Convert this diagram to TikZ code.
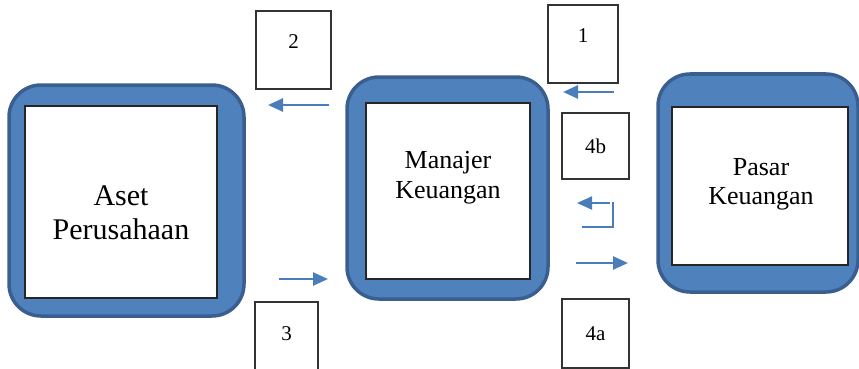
\documentclass[tikz,border=0pt]{standalone}
\usepackage{fontspec}
\setmainfont{Liberation Serif}
\usetikzlibrary{arrows.meta}
\definecolor{boxblue}{HTML}{4F81BD}
\definecolor{boxedge}{HTML}{3A5F8F}
\definecolor{arrowblue}{HTML}{4A7EBB}
\tikzset{
	bigbox/.style={draw=boxedge, fill=boxblue, line width=3.5pt, rounded corners=32pt},
	innerbox/.style={draw=black!85, fill=white, line width=1.2pt},
	numbox/.style={draw=black!80, fill=white, line width=1.2pt, font=\fontsize{21}{24}\selectfont},
	flowarrow/.style={draw=arrowblue, line width=2.6pt, -{Triangle[length=15pt,width=13pt]}}
}
\begin{document}
\begin{tikzpicture}[x=1pt,y=-1pt]
	\useasboundingbox (0,0) rectangle (859,369);
	% aset perusahaan
	\node[bigbox, minimum width=235pt, minimum height=231pt] (aset) at (126.5,200.5) {};
	\node[innerbox, minimum width=192pt, minimum height=192pt] (asetin) at (121,202) {};
	\node[align=center, font=\fontsize{30}{34}\selectfont] (asettxt) at (121,213) {Aset\\Perusahaan};
	% manajer keuangan
	\node[bigbox, minimum width=201pt, minimum height=222pt] (manajer) at (447.5,188) {};
	\node[innerbox, minimum width=164pt, minimum height=176pt] (manajerin) at (448,191) {};
	\node[align=center, font=\fontsize{26}{30}\selectfont] (manajertxt) at (448,178) {Manajer\\Keuangan};
	% pasar keuangan
	\node[bigbox, minimum width=200pt, minimum height=218pt] (pasar) at (758,183) {};
	\node[innerbox, minimum width=176pt, minimum height=158pt] (pasarin) at (760,186) {};
	\node[align=center, font=\fontsize{26}{29}\selectfont] (pasartxt) at (761,184) {Pasar\\Keuangan};
	% nomor
	\node[numbox, minimum width=75pt, minimum height=78pt, text depth=16pt] (n2) at (293.5,50) {2};
	\node[numbox, minimum width=70pt, minimum height=78pt, text depth=16pt] (n1) at (583,44) {1};
	\node[numbox, minimum width=67pt, minimum height=66pt] (n4b) at (595.5,146) {4b};
	\node[numbox, minimum width=63pt, minimum height=80pt, text depth=16pt] (n3) at (286.5,342) {3};
	\node[numbox, minimum width=67pt, minimum height=69pt] (n4a) at (595.5,333.5) {4a};
	% panah
	\draw[flowarrow] (329,105) -- (268,105);
	\draw[flowarrow] (614,92) -- (563,92);
	\draw[flowarrow] (279,279) -- (328,279);
	\draw[flowarrow] (576,263) -- (628,263);
	\draw[draw=arrowblue, line width=1.6pt] (582,227) -- (613,227) -- (613,202);
	\draw[flowarrow, line width=2pt] (610,203) -- (577,203);
\end{tikzpicture}
\end{document}
